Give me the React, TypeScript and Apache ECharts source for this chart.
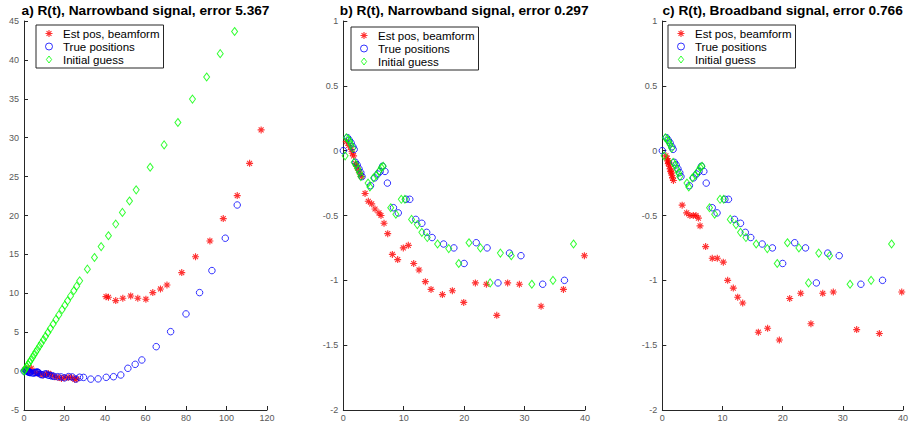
import React, { useEffect, useRef } from "react";
import * as echarts from "echarts";

// ---------- data ----------
const seriesNames = ["Est pos, beamform", "True positions", "Initial guess"];
const titles = [
  "a) R(t), Narrowband signal, error 5.367",
  "b) R(t), Narrowband signal, error 0.297",
  "c) R(t), Broadband signal, error 0.766",
];

const xTicksA = [0, 20, 40, 60, 80, 100, 120];
const yTicksA = [-5, 0, 5, 10, 15, 20, 25, 30, 35, 40, 45];
const xTicksBC = [0, 10, 20, 30, 40];
const yTicksBC = [-2, -1.5, -1, -0.5, 0, 0.5, 1];

// true positions (shared by b and c, first part of a)
const trueBC: number[][] = [
  [0, 0], [0.7, 0.1], [1.0, 0.08], [1.3, 0.06], [1.6, 0.03], [1.8, 0.01],
  [2.0, -0.09], [2.3, -0.11], [2.6, -0.14], [2.9, -0.17], [3.1, -0.2],
  [4.5, -0.27], [5.2, -0.21], [5.7, -0.18], [6.1, -0.16], [6.5, -0.12], [6.9, -0.16], [7.3, -0.25],
  [8.3, -0.44], [9.1, -0.48], [10.4, -0.375], [11.0, -0.375], [12.0, -0.53], [13.0, -0.56],
  [13.8, -0.63], [14.7, -0.67], [16.6, -0.72], [18.3, -0.75], [20.0, -0.87], [22.0, -0.71],
  [23.8, -0.75], [25.6, -1.02], [27.5, -0.79], [29.4, -0.81], [33.0, -1.03], [36.6, -1.0],
];
const guessBC: number[][] = [
  [0.3, -0.04], [0.5, 0.1], [0.8, 0.09], [1.05, 0.07], [1.3, 0.045], [1.55, 0.02],
  [1.8, -0.09], [2.1, -0.11], [2.4, -0.14], [2.7, -0.17], [2.9, -0.2],
  [4.1, -0.25], [4.4, -0.28], [5.0, -0.21], [5.5, -0.19], [5.9, -0.16], [6.3, -0.13], [6.6, -0.12],
  [7.85, -0.44], [8.7, -0.49], [9.6, -0.375], [10.2, -0.375], [11.3, -0.53], [12.25, -0.57],
  [13.0, -0.63], [13.9, -0.67], [15.6, -0.72], [17.45, -0.755], [19.1, -0.87], [20.8, -0.71],
  [22.7, -0.75], [24.3, -1.02], [26.0, -0.79], [27.8, -0.81], [31.2, -1.03], [34.7, -1.0], [38.1, -0.72],
];
const estB: number[][] = [
  [0.5, 0.07], [0.9, 0.04], [1.3, 0.01], [1.5, -0.02], [1.7, -0.04],
  [2.0, -0.1], [2.2, -0.12], [2.5, -0.15], [2.8, -0.18], [3.0, -0.2],
  [3.6, -0.33], [4.14, -0.39], [4.7, -0.41], [5.25, -0.45], [5.9, -0.48], [6.24, -0.5],
  [6.74, -0.56], [7.35, -0.64], [8.12, -0.8], [9.0, -0.84], [9.93, -0.75], [10.76, -0.73],
  [11.65, -0.87], [12.53, -0.92], [13.58, -1.01], [14.52, -1.07], [16.4, -1.11], [18.05, -1.08],
  [19.93, -1.17], [21.86, -1.02], [23.68, -1.03], [25.4, -1.27], [27.2, -1.02], [29.14, -1.03],
  [32.73, -1.2], [36.43, -1.07], [39.9, -0.81],
];
const estC: number[][] = [
  [0.6, -0.04], [0.8, -0.06], [0.9, -0.08], [1.0, -0.1], [1.1, -0.09], [1.2, -0.12],
  [1.3, -0.14], [1.4, -0.16], [1.5, -0.17], [1.6, -0.19], [1.7, -0.21], [1.85, -0.23],
  [3.3, -0.42], [4.05, -0.48], [4.6, -0.5], [5.15, -0.5], [5.6, -0.5], [6.0, -0.52],
  [6.27, -0.58], [7.2, -0.74], [8.3, -0.83], [9.14, -0.83], [10.14, -0.86], [10.86, -1.0],
  [11.8, -1.06], [12.53, -1.13], [13.36, -1.175], [15.96, -1.4], [17.5, -1.37], [19.45, -1.46],
  [21.17, -1.14], [23.0, -1.1], [24.7, -1.335], [26.66, -1.1], [28.42, -1.09], [32.3, -1.38],
  [36.07, -1.41], [39.79, -1.09],
];
const trueAExtra: number[][] = [
  [40.6, -0.8], [44.2, -0.72], [47.8, -0.5], [51.3, 0.36], [54.9, 0.87], [58.2, 1.43],
  [65.3, 3.14], [72.4, 5.07], [80.0, 7.35], [86.7, 10.09], [92.8, 12.92], [99.4, 17.08], [105.3, 21.35],
];
const estA: number[][] = [
  [0.5, 0.2], [1.5, 0.35], [3.6, 0.36], [2.5, -0.1], [5, -0.15], [6.5, -0.25], [8, -0.35],
  [9.5, -0.5], [11, -0.4], [12, -0.3], [13.5, -0.5], [15.2, -0.73], [16.8, -0.81], [18.5, -0.94],
  [20.1, -0.86], [21.8, -0.81], [23.4, -0.81], [25.1, -1.07], [26.1, -1.0],
  [40.5, 9.57], [41.7, 9.49], [45.3, 9.06], [48.8, 9.36], [52.7, 9.66], [56.2, 9.36], [60.2, 9.24],
  [63.6, 10.09], [67.4, 10.56], [70.6, 11.07], [77.9, 12.66], [84.7, 14.7], [91.8, 16.73],
  [98.4, 19.6], [105.3, 22.56], [111.4, 26.7], [117.1, 31.0],
];
const guessA: number[][] = [
  [0, 0], [0.3, 0.13], [0.8, 0.34], [1.4, 0.59], [2, 0.84], [2.7, 1.13], [3.4, 1.43], [4.2, 1.76],
  [5, 2.1], [5.8, 2.44], [6.6, 2.77], [7.6, 3.19], [8.5, 3.57], [9.6, 4.03], [10.6, 4.45],
  [11.8, 4.96], [13, 5.46], [14.4, 6.05], [15.8, 6.64], [17.2, 7.22], [18.8, 7.9], [20.2, 8.48],
  [21.5, 9.03], [23, 9.66], [24.6, 10.33], [26, 10.92], [27.5, 11.6], [31.3, 13.1], [34.8, 14.6],
  [38.1, 16.0], [41.7, 17.4], [45.3, 18.9], [48.6, 20.4], [52.1, 21.86], [55.4, 23.3], [62.3, 26.2],
  [69.2, 29.07], [76.0, 31.95], [83.2, 34.96], [90.2, 37.8], [96.9, 40.8], [104.0, 43.65],
];
const trueA = [...trueBC, ...trueAExtra];

// ---------- styles ----------
const FONT = '"Liberation Sans", Arial, Helvetica, sans-serif';
const STAR =
  "path://M0 4.2L10 4.2L10 5.8L0 5.8Z M4.2 0L5.8 0L5.8 10L4.2 10Z " +
  "M2.06 0.94L9.06 7.94L7.94 9.06L0.94 2.06Z M9.06 2.06L2.06 9.06L0.94 7.94L7.94 0.94Z";
const DIAMOND_ICON = "path://M3 0L6 4L3 8L0 4Z";
const CIRCLE_ICON = "path://M0 3A3 3 0 1 1 6 3A3 3 0 1 1 0 3Z";

const grids = [
  { left: 24, top: 21, width: 243, height: 389 },
  { left: 343.3, top: 21, width: 241.7, height: 389 },
  { left: 662.3, top: 21, width: 240.7, height: 389 },
];
const legendPos = [
  { left: 36, top: 25 },
  { left: 351, top: 27 },
  { left: 668, top: 25 },
];

function makeAxis(kind: "x" | "y", idx: number, ticks: number[]) {
  return {
    type: "value",
    gridIndex: idx,
    position: kind === "x" ? "bottom" : "left",
    min: ticks[0],
    max: ticks[ticks.length - 1],
    interval: ticks[1] - ticks[0],
    splitLine: { show: false },
    axisLine: { show: true, onZero: false, lineStyle: { color: "#262626", width: 1 } },
    axisTick: { show: true, inside: true, length: 4, lineStyle: { color: "#262626" } },
    axisLabel: {
      color: "#595959",
      fontSize: 9,
      fontFamily: FONT,
      margin: kind === "x" ? 3 : 5,
      showMinLabel: true,
      showMaxLabel: true,
    },
  };
}

export default function App() {
  const ref = useRef<HTMLDivElement>(null);
  useEffect(() => {
    if (!ref.current) return;
    const chart = echarts.init(ref.current, null, { renderer: "svg" });
    const panels = [
      { est: estA, tru: trueA, guess: guessA, xt: xTicksA, yt: yTicksA },
      { est: estB, tru: trueBC, guess: guessBC, xt: xTicksBC, yt: yTicksBC },
      { est: estC, tru: trueBC, guess: guessBC, xt: xTicksBC, yt: yTicksBC },
    ];
    const series: any[] = [];
    panels.forEach((p, i) => {
      series.push({
        type: "scatter", name: seriesNames[0], xAxisIndex: i, yAxisIndex: i, data: p.est,
        symbol: STAR, symbolSize: 7, clip: false,
        itemStyle: { color: "#ff0000" },
      });
      series.push({
        type: "scatter", name: seriesNames[1], xAxisIndex: i, yAxisIndex: i, data: p.tru,
        symbol: "circle", symbolSize: 6.5, clip: false,
        itemStyle: { color: "rgba(0,0,0,0)", borderColor: "#0000ff", borderWidth: 1 },
      });
      series.push({
        type: "scatter", name: seriesNames[2], xAxisIndex: i, yAxisIndex: i, data: p.guess,
        symbol: "diamond", symbolSize: [6, 8], clip: false,
        itemStyle: { color: "rgba(0,0,0,0)", borderColor: "#00ff00", borderWidth: 1 },
      });
    });
    chart.setOption({
      animation: false,
      backgroundColor: "#ffffff",
      title: grids.map((g, i) => ({
        text: titles[i],
        left: g.left + g.width / 2,
        textAlign: "center",
        top: 3,
        padding: 0,
        textStyle: { fontSize: 13.7, fontWeight: "bold", color: "#000", fontFamily: FONT },
      })),
      legend: legendPos.map((l) => ({
        left: l.left,
        top: l.top,
        orient: "vertical",
        data: [
          { name: seriesNames[0], icon: STAR },
          { name: seriesNames[1], icon: CIRCLE_ICON, itemStyle: { borderWidth: 1 } },
          { name: seriesNames[2], icon: DIAMOND_ICON, itemStyle: { borderWidth: 1 } },
        ],
        symbolKeepAspect: true,
        itemWidth: 22,
        itemHeight: 7,
        itemGap: 0,
        padding: [2, 4, 2, 9],
        borderColor: "#262626",
        borderWidth: 1,
        backgroundColor: "#ffffff",
        selectedMode: false,
        textStyle: { fontSize: 11.5, color: "#000", fontFamily: FONT, lineHeight: 13, padding: [0, 0, 0, -2] },
      })),
      grid: grids.map((g) => ({ ...g, outerBoundsMode: "none", containLabel: false })),
      xAxis: panels.map((p, i) => makeAxis("x", i, p.xt)),
      yAxis: panels.map((p, i) => makeAxis("y", i, p.yt)),
      series,
    });
    return () => chart.dispose();
  }, []);
  return (
    <div
      ref={ref}
      style={{ position: "fixed", left: 0, top: 0, width: 909, height: 427, background: "#fff" }}
    />
  );
}
